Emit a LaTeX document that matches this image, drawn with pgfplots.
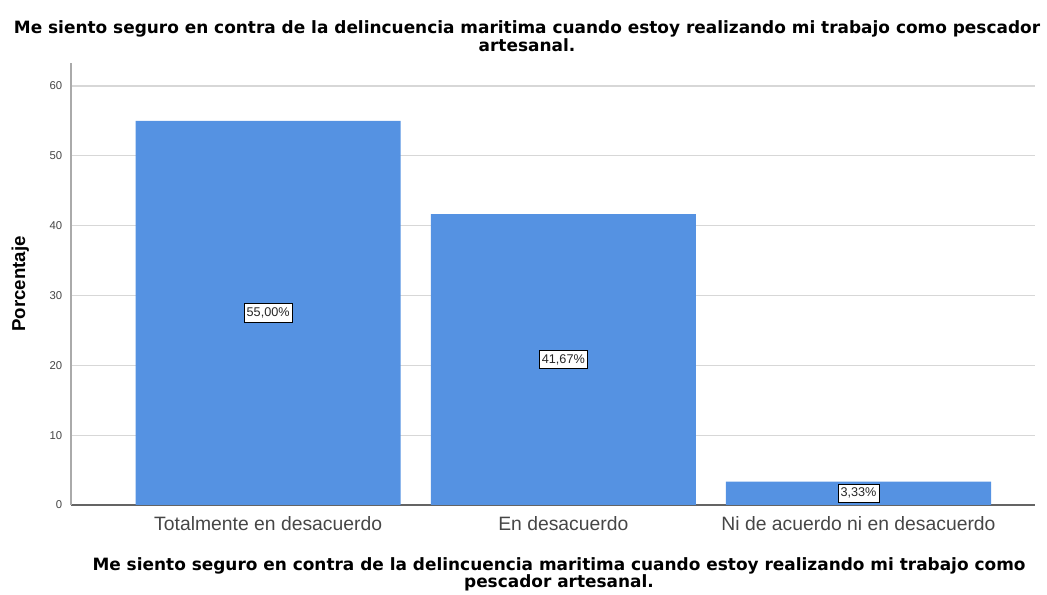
\documentclass[border=0pt]{standalone}
\usepackage{pgfplots}
\pgfplotsset{compat=1.18}
\usepackage{fontspec}
\setmainfont{Liberation Sans}
\newfontfamily\titlefont{DejaVu Sans}
\definecolor{barblue}{RGB}{85,146,226}
\definecolor{gridgray}{RGB}{215,215,215}
\definecolor{ticktext}{RGB}{70,70,70}
\definecolor{xaxisgray}{RGB}{100,100,100}
\definecolor{yaxisgray}{RGB}{170,170,170}
\begin{document}
\begin{tikzpicture}
\begin{axis}[
  scale only axis, width=723pt, height=331.5pt,
  anchor=south west, at={(0,0)},
  xmin=-0.668, xmax=2.598, ymin=0, ymax=63.3,
  axis lines=left, axis line style={-},
  x axis line style={draw=xaxisgray, line width=0.8pt},
  y axis line style={draw=yaxisgray, line width=1.5pt},
  ytick={0,10,20,30,40,50,60},
  xtick={0,1,2},
  xticklabels={Totalmente en desacuerdo, En desacuerdo, Ni de acuerdo ni en desacuerdo},
  major tick length=0pt,
  /pgf/number format/assume math mode=true,
  ymajorgrids, grid style={draw=gridgray, line width=0.8pt},
  xticklabel style={anchor=base, yshift=-19.5pt, font=\fontsize{14.5}{16}\selectfont, text=ticktext},
  yticklabel style={anchor=east, font=\fontsize{8.5}{10}\selectfont, text=ticktext, xshift=-3pt},
  ylabel={\textbf{Porcentaje}},
  ylabel style={at={(axis description cs:0,0.5)}, anchor=center, rotate=0, yshift=38pt, font=\fontsize{14}{16}\selectfont},
  clip=false,
]
\addplot[ybar, bar width=0.898, fill=barblue, draw=none] coordinates {(0,55.00) (1,41.67) (2,3.33)};
\addplot[draw=none, mark=none, nodes near coords={\pgfplotspointmeta\%},
  point meta=explicit symbolic,
  nodes near coords align={center},
  nodes near coords style={fill=white, draw=black, line width=0.5pt, inner xsep=2pt, inner ysep=3pt, font=\fontsize{9.5}{10}\selectfont, text=black!85}]
  table[meta=label] {
x y label
0 27.5 55,00
1 20.835 41,67
2 1.665 3,33
};
\end{axis}
\node[anchor=base, font=\fontsize{12.7}{15}\selectfont\titlefont\bfseries] at (342pt,353.25pt) {Me siento seguro en contra de la delincuencia maritima cuando estoy realizando mi trabajo como pescador};
\node[anchor=base, font=\fontsize{12.7}{15}\selectfont\titlefont\bfseries] at (342pt,339.75pt) {artesanal.};
\node[anchor=base, font=\fontsize{12.7}{15}\selectfont\titlefont\bfseries] at (366pt,-49.5pt) {Me siento seguro en contra de la delincuencia maritima cuando estoy realizando mi trabajo como};
\node[anchor=base, font=\fontsize{12.7}{15}\selectfont\titlefont\bfseries] at (366pt,-62.25pt) {pescador artesanal.};
\pgfresetboundingbox
\path[use as bounding box] (-53.25pt,-67.5pt) rectangle (732pt,378.75pt);
\end{tikzpicture}
\end{document}
